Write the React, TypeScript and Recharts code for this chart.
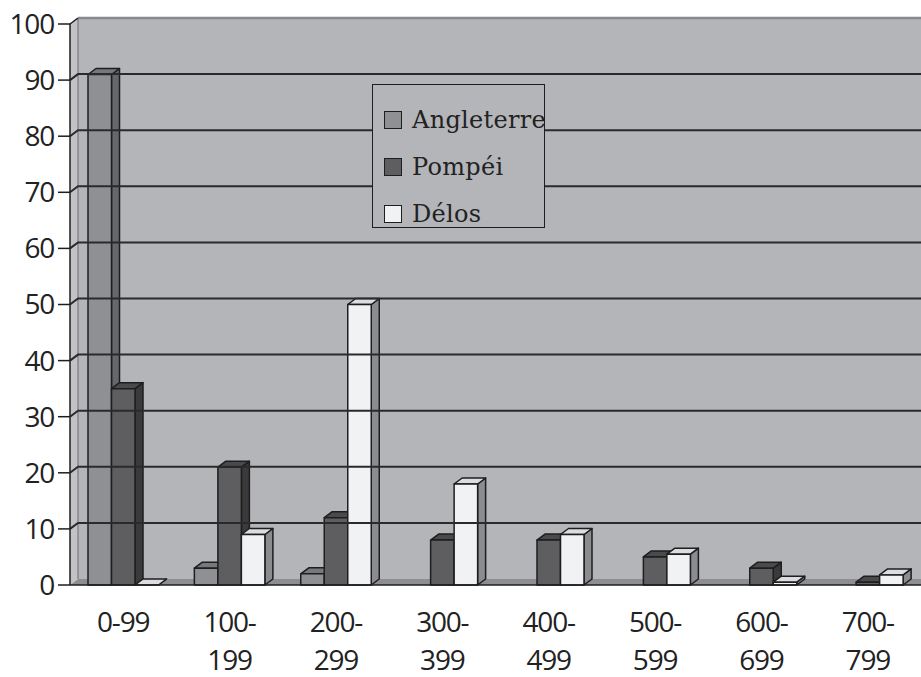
import { BarChart, Bar, XAxis, YAxis, ReferenceArea, ReferenceLine } from "recharts";

const categories = ["0-99", "100-199", "200-299", "300-399", "400-499", "500-599", "600-699", "700-799"];
const angleterre = [91, 3, 2, null, null, null, null, null];
const pompei = [35, 21, 12, 8, 8, 5, 3, 0.5];
const delos = [0, 9, 50, 18, 9, 5.5, 0.5, 1.8];
const yTicks = [0, 10, 20, 30, 40, 50, 60, 70, 80, 90, 100];
const gridValues = [10, 20, 30, 40, 50, 60, 70, 80, 90];
const edgeTicks = [0, 1, 2, 3, 4, 5, 6, 7];

const series = [
  { key: "angleterre", name: "Angleterre", front: "#8f9093", top: "#77787b", side: "#66676a" },
  { key: "pompei", name: "Pompéi", front: "#5e5e61", top: "#4a4a4d", side: "#3a3a3c" },
  { key: "delos", name: "Délos", front: "#f1f2f4", top: "#dcdde0", side: "#8b8c8f" },
];

const data = categories.map((range, i) => ({
  range,
  angleterre: angleterre[i],
  pompei: pompei[i],
  delos: delos[i],
}));

// depth of the fake 3D extrusion
const DX = 8;
const DY = 6;
const WALL = "#b4b5b9";
const INK = "#1e1e1e";
const NUM_FONT = "'Open Sans', sans-serif";

function makeBox(s: (typeof series)[number]) {
  return (props: any) => {
    const { x, y, width, height, payload } = props;
    if (payload == null || payload[s.key] == null) return <g />;
    const h = Math.max(height || 0, 0);
    const top = h > 0 ? y : y + (height || 0);
    return (
      <g stroke={INK} strokeWidth={1.5} strokeLinejoin="round">
        <path d={`M${x + width},${top} l${DX},${-DY} v${h} l${-DX},${DY} z`} fill={s.side} />
        <path d={`M${x},${top} l${DX},${-DY} h${width} l${-DX},${DY} z`} fill={s.top} />
        {h > 0 && <rect x={x} y={top} width={width} height={h} fill={s.front} />}
      </g>
    );
  };
}

// back wall, left wall and floor of the plot box
function Walls(props: any) {
  const { x, y, width, height } = props;
  const b = y + height;
  return (
    <g>
      <rect x={x + DX} y={y - DY} width={width - DX} height={height} fill={WALL} />
      <path d={`M${x},${b} V${y} l${DX},${-DY} V${b - DY} z`} fill="#c2c3c6" />
      <path d={`M${x},${b} l${DX},${-DY} H${x + width} V${b} z`} fill="#8d8e91" />
      <line x1={x + DX} y1={y - DY} x2={x + width} y2={y - DY} stroke="#88898c" strokeWidth={2.5} />
      <line x1={x + DX} y1={y - DY} x2={x + DX} y2={b - DY} stroke="#88898c" strokeWidth={1.5} />
      <line x1={x} y1={y} x2={x + DX} y2={y - DY} stroke={INK} strokeWidth={1.5} />
    </g>
  );
}

// gridline running up the left wall and along the back wall
function WallGridLine(props: any) {
  const { x1, y1, x2 } = props;
  const left = Math.min(x1, x2);
  const right = Math.max(x1, x2);
  return (
    <polyline
      points={`${left},${y1} ${left + DX},${y1 - DY} ${right},${y1 - DY}`}
      fill="none"
      stroke="#2a2a2a"
      strokeWidth={2}
    />
  );
}

function RangeTick(props: any) {
  const { x, y, payload } = props;
  const v: string = payload.value;
  const parts = v.split("-");
  const lines = v.length > 4 ? [parts[0] + "-", parts[1]] : [v];
  return (
    <text textAnchor="middle" fill="#222" fontFamily={NUM_FONT} fontSize={28} letterSpacing={-1.2}>
      {lines.map((t, i) => (
        <tspan key={i} x={x} y={y + 47 + i * 38}>
          {t}
        </tspan>
      ))}
    </text>
  );
}

function SeriesLegend() {
  return (
    <div
      style={{
        position: "absolute",
        left: 372,
        top: 84,
        width: 173,
        height: 144,
        boxSizing: "border-box",
        border: `1.5px solid ${INK}`,
        background: WALL,
        fontFamily: "'DejaVu Serif', serif",
        fontSize: 24,
        color: "#222",
        whiteSpace: "nowrap",
        paddingTop: 11,
      }}
    >
      {series.map((s) => (
        <div key={s.key} style={{ display: "flex", alignItems: "center", height: 47, paddingLeft: 11 }}>
          <span
            style={{
              display: "inline-block",
              width: 18,
              height: 18,
              boxSizing: "border-box",
              border: `1.5px solid ${INK}`,
              background: s.front,
              marginRight: 10,
              flexShrink: 0,
            }}
          />
          <span style={{ letterSpacing: 0.3 }}>{s.name}</span>
        </div>
      ))}
    </div>
  );
}

export default function App() {
  return (
    <div style={{ position: "relative", width: 921, height: 677, background: "#fff" }}>
      <style>{"body{margin:0}"}</style>
      <BarChart
        width={921}
        height={677}
        data={data}
        margin={{ top: 24, right: 0, bottom: 0, left: 0 }}
        barGap={0}
        barSize={23.5}
      >
        <ReferenceArea y1={0} y2={100} shape={<Walls />} ifOverflow="visible" />
        {gridValues.map((v) => (
          <ReferenceLine key={v} y={v} ifOverflow="visible" shape={<WallGridLine />} />
        ))}
        <XAxis
          xAxisId="edges"
          type="number"
          domain={[0, 8]}
          ticks={edgeTicks}
          height={0}
          axisLine={false}
          tickSize={11}
          tickLine={{ stroke: INK, strokeWidth: 1.5 }}
          tick={() => <g />}
        />
        <XAxis
          dataKey="range"
          height={92}
          interval={0}
          tickSize={0}
          tickMargin={0}
          tickLine={false}
          axisLine={{ stroke: INK, strokeWidth: 1.5 }}
          tick={<RangeTick />}
        />
        <YAxis
          domain={[0, 100]}
          ticks={yTicks}
          interval={0}
          width={70}
          tickSize={12}
          tickMargin={4}
          axisLine={{ stroke: INK, strokeWidth: 1.5 }}
          tickLine={{ stroke: INK, strokeWidth: 1.5 }}
          tick={{ fill: "#222", fontFamily: NUM_FONT, fontSize: 28, letterSpacing: -1.2 }}
        />
        {series.map((s) => (
          <Bar key={s.key} dataKey={s.key} name={s.name} isAnimationActive={false} shape={makeBox(s)} />
        ))}
      </BarChart>
      <SeriesLegend />
    </div>
  );
}
